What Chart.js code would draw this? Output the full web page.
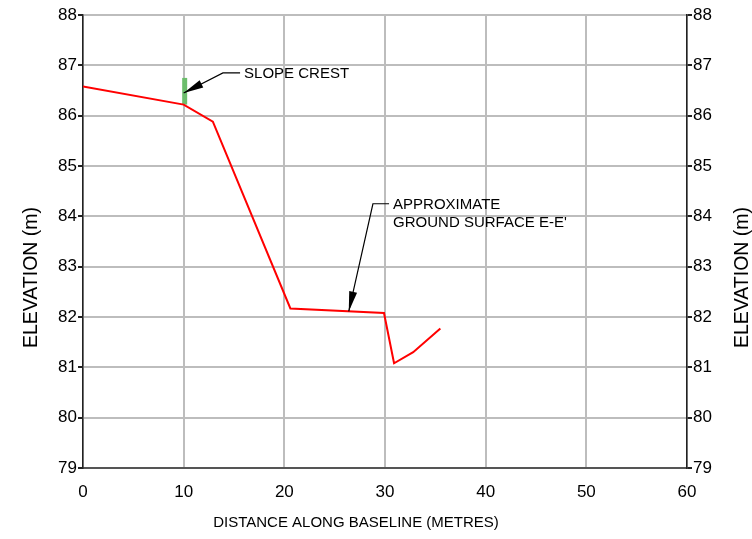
<!DOCTYPE html>
<html>
<head>
<meta charset="utf-8">
<script src="https://cdn.jsdelivr.net/npm/chart.js@4/dist/chart.umd.min.js"></script>
<style>
  body { margin: 0; background: #fff; }
  canvas { display: block; }
</style>
</head>
<body>
<canvas id="section" width="752" height="539"></canvas>
<script>
// ground profile E-E'
var distance = [0, 10, 12.9, 20.6, 29.9, 30.9, 32.8, 35.5];
var elevation = [86.58, 86.22, 85.88, 82.17, 82.08, 81.08, 81.30, 81.77];

// slope crest marker
var crestDist = [10.1, 10.1];
var crestElev = [86.22, 86.75];

var xTicks = [0, 10, 20, 30, 40, 50, 60];
var yTicks = [79, 80, 81, 82, 83, 84, 85, 86, 87, 88];

// callouts: text lines, arrow tip, elbow, text start (data units)
var callouts = [
	{ lines: ['SLOPE CREST'], tip: [10.0, 86.45], elbow: [13.9, 86.85], text: [16.0, 86.85] },
	{ lines: ['APPROXIMATE', "GROUND SURFACE E-E'"], tip: [26.4, 82.11], elbow: [28.8, 84.25], text: [30.8, 84.25] }
];

var FONT = '"Liberation Sans", Arial, sans-serif';

function toPoints(xs, ys) {
	return xs.map((x, i) => ({ x: x, y: ys[i] }));
}

var extras = {
	id: 'extras',
	beforeDraw(chart) {
		var c = chart.ctx;
		c.save();
		c.fillStyle = '#fff';
		c.fillRect(0, 0, chart.width, chart.height);
		c.restore();
	},
	afterDatasetsDraw(chart) {
		var c = chart.ctx;
		var xs = chart.scales.x, ys = chart.scales.y;
		c.save();
		callouts.forEach((co) => {
			var tx = xs.getPixelForValue(co.tip[0]), ty = ys.getPixelForValue(co.tip[1]);
			var ex = xs.getPixelForValue(co.elbow[0]), ey = ys.getPixelForValue(co.elbow[1]);
			var sx = xs.getPixelForValue(co.text[0]), sy = ys.getPixelForValue(co.text[1]);
			c.strokeStyle = '#000';
			c.lineWidth = 1.2;
			c.beginPath();
			c.moveTo(sx - 4, ey);
			c.lineTo(ex, ey);
			c.lineTo(tx, ty);
			c.stroke();
			// arrow head
			var ang = Math.atan2(ty - ey, tx - ex);
			var len = 20, hw = 4;
			var bx = tx - len * Math.cos(ang), by = ty - len * Math.sin(ang);
			c.fillStyle = '#000';
			c.beginPath();
			c.moveTo(tx, ty);
			c.lineTo(bx + hw * Math.sin(ang), by - hw * Math.cos(ang));
			c.lineTo(bx - hw * Math.sin(ang), by + hw * Math.cos(ang));
			c.closePath();
			c.fill();
			c.font = '15px ' + FONT;
			c.textBaseline = 'middle';
			c.textAlign = 'left';
			co.lines.forEach((t, i) => {
				c.fillText(t, sx, sy + 1 + i * 18);
			});
		});
		c.restore();
	},
	afterDraw(chart) {
		var c = chart.ctx;
		c.save();
		c.fillStyle = '#000';
		c.textAlign = 'center';
		c.textBaseline = 'alphabetic';
		c.font = '15px ' + FONT;
		c.fillText('DISTANCE ALONG BASELINE (METRES)', 356, 527);
		c.font = '19.5px ' + FONT;
		[36.7, 747.5].forEach((bx) => {
			c.save();
			c.translate(bx, 277.5);
			c.rotate(-Math.PI / 2);
			c.fillText('ELEVATION (m)', 0, 0);
			c.restore();
		});
		c.restore();
	}
};

var yScale = (pos) => ({
	type: 'linear',
	position: pos,
	min: yTicks[0],
	max: yTicks[yTicks.length - 1],
	afterBuildTicks: (s) => { s.ticks = yTicks.map((v) => ({ value: v })); },
	afterFit: (s) => { s.width = pos == 'left' ? 83 : 65; },
	ticks: { color: '#000', padding: 1, font: { family: FONT, size: 17 } },
	grid: {
		color: '#bdbdbd', lineWidth: 2, tickColor: '#222', tickLength: 5,
		drawOnChartArea: pos == 'left'
	},
	border: { color: '#222', width: 1.5 }
});

new Chart(document.getElementById('section'), {
	type: 'line',
	data: {
		datasets: [{
			label: 'ground surface',
			data: toPoints(distance, elevation),
			borderColor: '#ff0000',
			borderWidth: 2,
			pointRadius: 0,
			tension: 0
		}, {
			label: 'slope crest',
			data: toPoints(crestDist, crestElev),
			borderColor: '#6cbd6c',
			borderWidth: 5,
			borderCapStyle: 'butt',
			pointRadius: 0
		}]
	},
	options: {
		responsive: false,
		animation: false,
		layout: { padding: { top: 15, left: 0, right: 0, bottom: 0 } },
		plugins: { legend: { display: false }, tooltip: { enabled: false } },
		scales: {
			x: {
				type: 'linear',
				min: xTicks[0],
				max: xTicks[xTicks.length - 1],
				afterBuildTicks: (s) => { s.ticks = xTicks.map((v) => ({ value: v })); },
				afterFit: (s) => { s.height = 71; },
				ticks: { color: '#000', padding: 14, maxRotation: 0, font: { family: FONT, size: 17 } },
				grid: { color: '#bdbdbd', lineWidth: 2, drawTicks: false },
				border: { color: '#555', width: 2 }
			},
			y: yScale('left'),
			y2: yScale('right')
		}
	},
	plugins: [extras]
});
</script>
</body>
</html>
